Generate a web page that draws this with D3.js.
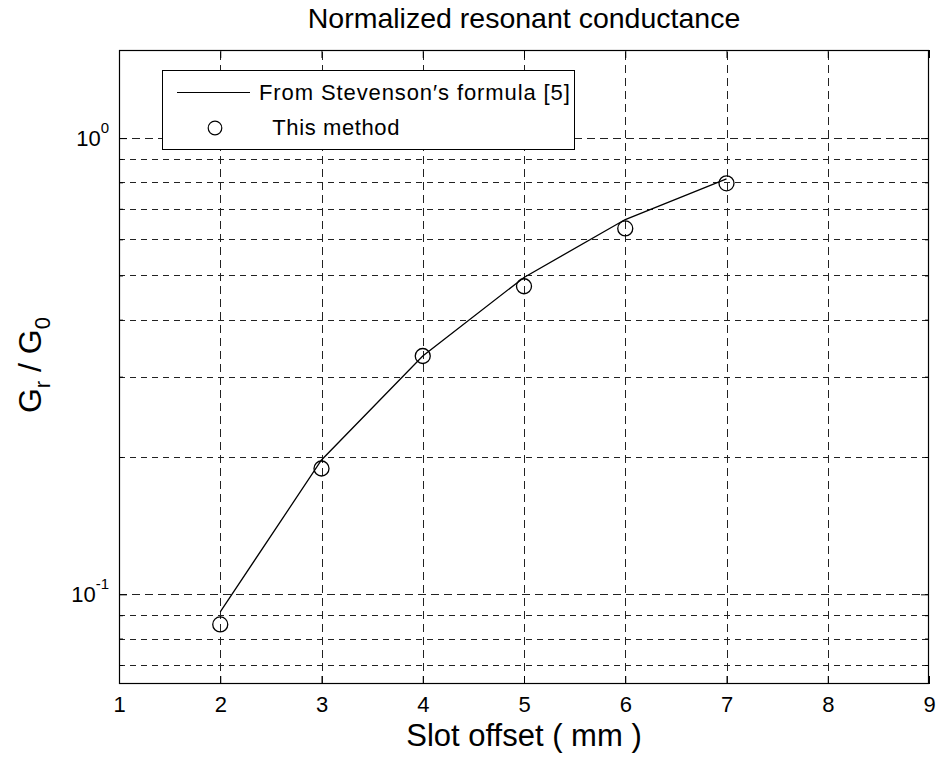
<!DOCTYPE html>
<html>
<head>
<meta charset="utf-8">
<script src="https://cdn.jsdelivr.net/npm/d3@7"></script>
<style>
  html, body { margin: 0; padding: 0; background: #fff; }
  svg { display: block; font-family: "Liberation Sans", Arial, sans-serif; }
</style>
</head>
<body>
<svg id="chart" width="937" height="757"></svg>
<script>
// Slot offset (mm) and normalized resonant conductance Gr/G0
const offsets = [2, 3, 4, 5, 6, 7];
const stevenson = [0.0915, 0.197, 0.333, 0.495, 0.663, 0.814];
const thisMethod = [0.0859, 0.1887, 0.333, 0.4735, 0.634, 0.796];

const xTicks = [1, 2, 3, 4, 5, 6, 7, 8, 9];
const yMajorTicks = [0.1, 1];
const yMinorTicks = [0.07, 0.08, 0.09, 0.2, 0.3, 0.4, 0.5, 0.6, 0.7, 0.8, 0.9];

const titleText = "Normalized resonant conductance";
const xLabelText = "Slot offset ( mm )";
const legendLabels = ["From Stevenson\u2032s formula [5]", " This method"];

const margin = { left: 119, right: 8, top: 50, bottom: 73 };
const W = 937, H = 757;
const FONT = "Liberation Sans, Arial, sans-serif";
const svg = d3.select("#chart");

const x = d3.scaleLinear().domain([1, 9]).range([margin.left, W - margin.right]);
const y = d3.scaleLog().domain([0.0636, 1.56]).range([H - margin.bottom, margin.top]);

const x0 = x.range()[0], x1 = x.range()[1];
const yb = y.range()[0], yt = y.range()[1];

// dashed grid
const grid = svg.append("g").attr("stroke", "#222").attr("stroke-width", 1).attr("fill", "none");
grid.selectAll("line.gx").data(xTicks.slice(1, -1)).join("line")
  .attr("x1", d => Math.round(x(d)) + 0.5).attr("x2", d => Math.round(x(d)) + 0.5)
  .attr("y1", yb).attr("y2", yt)
  .attr("stroke-dasharray", "8,5");
grid.selectAll("line.gy").data(yMajorTicks.concat(yMinorTicks)).join("line")
  .attr("x1", x0).attr("x2", x1)
  .attr("y1", d => Math.round(y(d)) + 0.5).attr("y2", d => Math.round(y(d)) + 0.5)
  .attr("stroke-dasharray", d => yMajorTicks.includes(d) ? "8,5" : "6,5");

// axes: inward ticks on all four sides
function styleAxis(g) {
  g.select(".domain").remove();
  g.selectAll(".tick line").attr("stroke", "#000");
  g.selectAll("text").attr("font-size", 22).attr("fill", "#000").attr("font-family", FONT);
}
const ax = svg.append("g");
ax.append("g").attr("transform", `translate(0,${yb})`)
  .call(d3.axisBottom(x).tickValues(xTicks).tickSize(-8).tickPadding(12).tickFormat(d3.format("d")))
  .call(styleAxis);
ax.append("g").attr("transform", `translate(0,${yt})`)
  .call(d3.axisTop(x).tickValues(xTicks).tickSize(-8).tickFormat("")).call(styleAxis);
ax.append("g").attr("transform", `translate(${x0},0)`)
  .call(d3.axisLeft(y).tickValues(yMajorTicks).tickSize(-8).tickFormat("")).call(styleAxis);
ax.append("g").attr("transform", `translate(${x1},0)`)
  .call(d3.axisRight(y).tickValues(yMajorTicks).tickSize(-8).tickFormat("")).call(styleAxis);
ax.append("g").attr("transform", `translate(${x0},0)`)
  .call(d3.axisLeft(y).tickValues(yMinorTicks).tickSize(-4).tickFormat("")).call(styleAxis);
ax.append("g").attr("transform", `translate(${x1},0)`)
  .call(d3.axisRight(y).tickValues(yMinorTicks).tickSize(-4).tickFormat("")).call(styleAxis);

// y tick labels as powers of ten
const yLab = svg.append("g").attr("font-size", 22).attr("fill", "#000");
yMajorTicks.forEach(v => {
  const t = yLab.append("text").attr("x", x0 - 10).attr("y", y(v) + 8).attr("text-anchor", "end");
  t.append("tspan").text("10");
  t.append("tspan").attr("dy", -13).attr("font-size", 15).text(String(Math.round(Math.log10(v))));
});

// frame
svg.append("rect").attr("x", x0 + 0.5).attr("y", yt + 0.5)
  .attr("width", x1 - x0 - 1).attr("height", yb - yt - 1)
  .attr("fill", "none").attr("stroke", "#000").attr("stroke-width", 1.2);

// Stevenson curve
const line = d3.line().x((d, i) => x(offsets[i])).y(d => y(d));
svg.append("path").datum(stevenson).attr("d", line)
  .attr("fill", "none").attr("stroke", "#000").attr("stroke-width", 1.3);

// this method markers
svg.append("g").selectAll("circle").data(thisMethod).join("circle")
  .attr("cx", (d, i) => x(offsets[i])).attr("cy", d => y(d)).attr("r", 7.5)
  .attr("fill", "none").attr("stroke", "#000").attr("stroke-width", 1.3);

// legend
const lg = svg.append("g");
lg.append("rect").attr("x", 162.5).attr("y", 70.5).attr("width", 412).attr("height", 79)
  .attr("fill", "#fff").attr("stroke", "#000").attr("stroke-width", 1);
lg.append("line").attr("x1", 177).attr("x2", 250).attr("y1", 92.5).attr("y2", 92.5)
  .attr("stroke", "#000").attr("stroke-width", 1);
lg.append("text").attr("x", 259).attr("y", 100).attr("font-size", 22)
  .attr("letter-spacing", 0.9).text(legendLabels[0]);
lg.append("circle").attr("cx", 215).attr("cy", 128).attr("r", 6.8)
  .attr("fill", "none").attr("stroke", "#000").attr("stroke-width", 1.2);
lg.append("text").attr("x", 266).attr("y", 135).attr("font-size", 22)
  .attr("letter-spacing", 0.6).attr("xml:space", "preserve").style("white-space", "pre")
  .text(legendLabels[1]);

// title and axis labels
svg.append("text").attr("x", (x0 + x1) / 2).attr("y", 28).attr("text-anchor", "middle")
  .attr("font-size", 28.5).text(titleText);
svg.append("text").attr("x", (x0 + x1) / 2).attr("y", 746).attr("text-anchor", "middle")
  .attr("font-size", 31).text(xLabelText);
const yl = svg.append("text").attr("transform", `translate(41,${(yt + yb) / 2 - 2}) rotate(-90)`)
  .attr("text-anchor", "middle").attr("font-size", 32);
yl.append("tspan").text("G");
yl.append("tspan").attr("dy", 9).attr("font-size", 22).text("r");
yl.append("tspan").attr("dy", -9).text(" / G");
yl.append("tspan").attr("dy", 9).attr("font-size", 22).text("0");
</script>
</body>
</html>
